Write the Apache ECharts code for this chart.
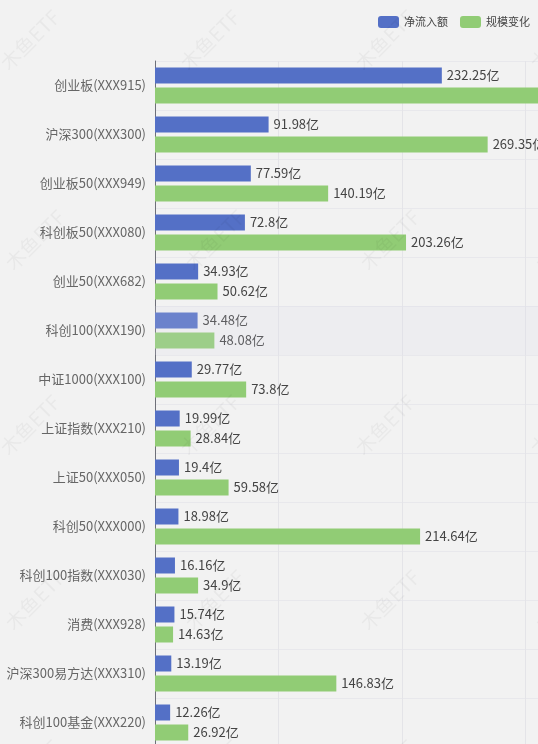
<!DOCTYPE html>
<html>
<head>
<meta charset="utf-8">
<script src="https://cdn.jsdelivr.net/npm/echarts@6/dist/echarts.min.js"></script>
<style>
html,body{margin:0;padding:0;background:#f2f2f2;overflow:hidden;width:538px;height:744px;}
#chart{width:700px;height:760px;}
</style>
</head>
<body>
<div id="chart"></div>
<script>
const categories = ['创业板(XXX915)','沪深300(XXX300)','创业板50(XXX949)','科创板50(XXX080)','创业50(XXX682)','科创100(XXX190)','中证1000(XXX100)','上证指数(XXX210)','上证50(XXX050)','科创50(XXX000)','科创100指数(XXX030)','消费(XXX928)','沪深300易方达(XXX310)','科创100基金(XXX220)'];
const netInflow = [232.25, 91.98, 77.59, 72.8, 34.93, 34.48, 29.77, 19.99, 19.4, 18.98, 16.16, 15.74, 13.19, 12.26];
const scaleChange = [340, 269.35, 140.19, 203.26, 50.62, 48.08, 73.8, 28.84, 59.58, 214.64, 34.9, 14.63, 146.83, 26.92];
const seriesNames = ['净流入额', '规模变化'];
const hoverIndex = 5;

const font = '"Microsoft YaHei","Noto Sans CJK SC",sans-serif';
const chart = echarts.init(document.getElementById('chart'), null, {renderer: 'canvas'});

// watermark texts
const marks = [];
const wmX = [30, 210, 385, 560];
const wmY = [40, 240, 425, 600, 770];
wmY.forEach((y, r) => wmX.forEach(x => {
  marks.push({
    type: 'text', x: x + (r % 2 ? 5 : 0), y: y, rotation: Math.PI / 4, z: 100, silent: true,
    style: {text: '木鱼ETF', fill: 'rgba(0,0,0,0.04)', font: '20px ' + font, align: 'center', verticalAlign: 'middle'}
  });
}));

const labelCfg = {show: true, position: 'right', distance: 5, color: '#444', fontSize: 13, fontFamily: font, formatter: p => p.value + '亿'};

chart.setOption({
  animation: false,
  backgroundColor: '#f2f2f2',
  textStyle: {fontFamily: font},
  color: ['#5470c6', '#91cc75'],
  legend: {
    data: seriesNames,
    left: 373, top: 11,
    itemWidth: 21, itemHeight: 12, itemGap: 12,
    textStyle: {fontSize: 11, color: '#444', fontFamily: font}
  },
  tooltip: {
    trigger: 'axis', showContent: false,
    axisPointer: {type: 'shadow', shadowStyle: {color: 'rgba(215,218,235,0.18)'}}
  },
  grid: {left: 155, top: 61, width: 494, height: 686, containLabel: false},
  xAxis: {
    type: 'value', min: 0, max: 400, interval: 100,
    axisLabel: {show: false},
    axisLine: {show: false}, axisTick: {show: false},
    splitLine: {lineStyle: {color: '#e4e4e8'}}
  },
  yAxis: {
    type: 'category', data: categories, inverse: true,
    axisLine: {lineStyle: {color: '#6e7079'}},
    axisTick: {lineStyle: {color: '#6e7079'}},
    axisLabel: {color: '#666', fontSize: 13, margin: 9, fontFamily: font},
    splitLine: {show: true, lineStyle: {color: '#e8e8ec'}}
  },
  series: [
    {name: seriesNames[0], type: 'bar', barWidth: 16, barGap: '25%', emphasis: {disabled: true},
     data: netInflow, label: labelCfg},
    {name: seriesNames[1], type: 'bar', barWidth: 16, barGap: '25%', emphasis: {disabled: true},
     data: scaleChange, label: labelCfg}
  ],
  graphic: marks
});
chart.dispatchAction({type: 'showTip', seriesIndex: 0, dataIndex: hoverIndex});
</script>
</body>
</html>
